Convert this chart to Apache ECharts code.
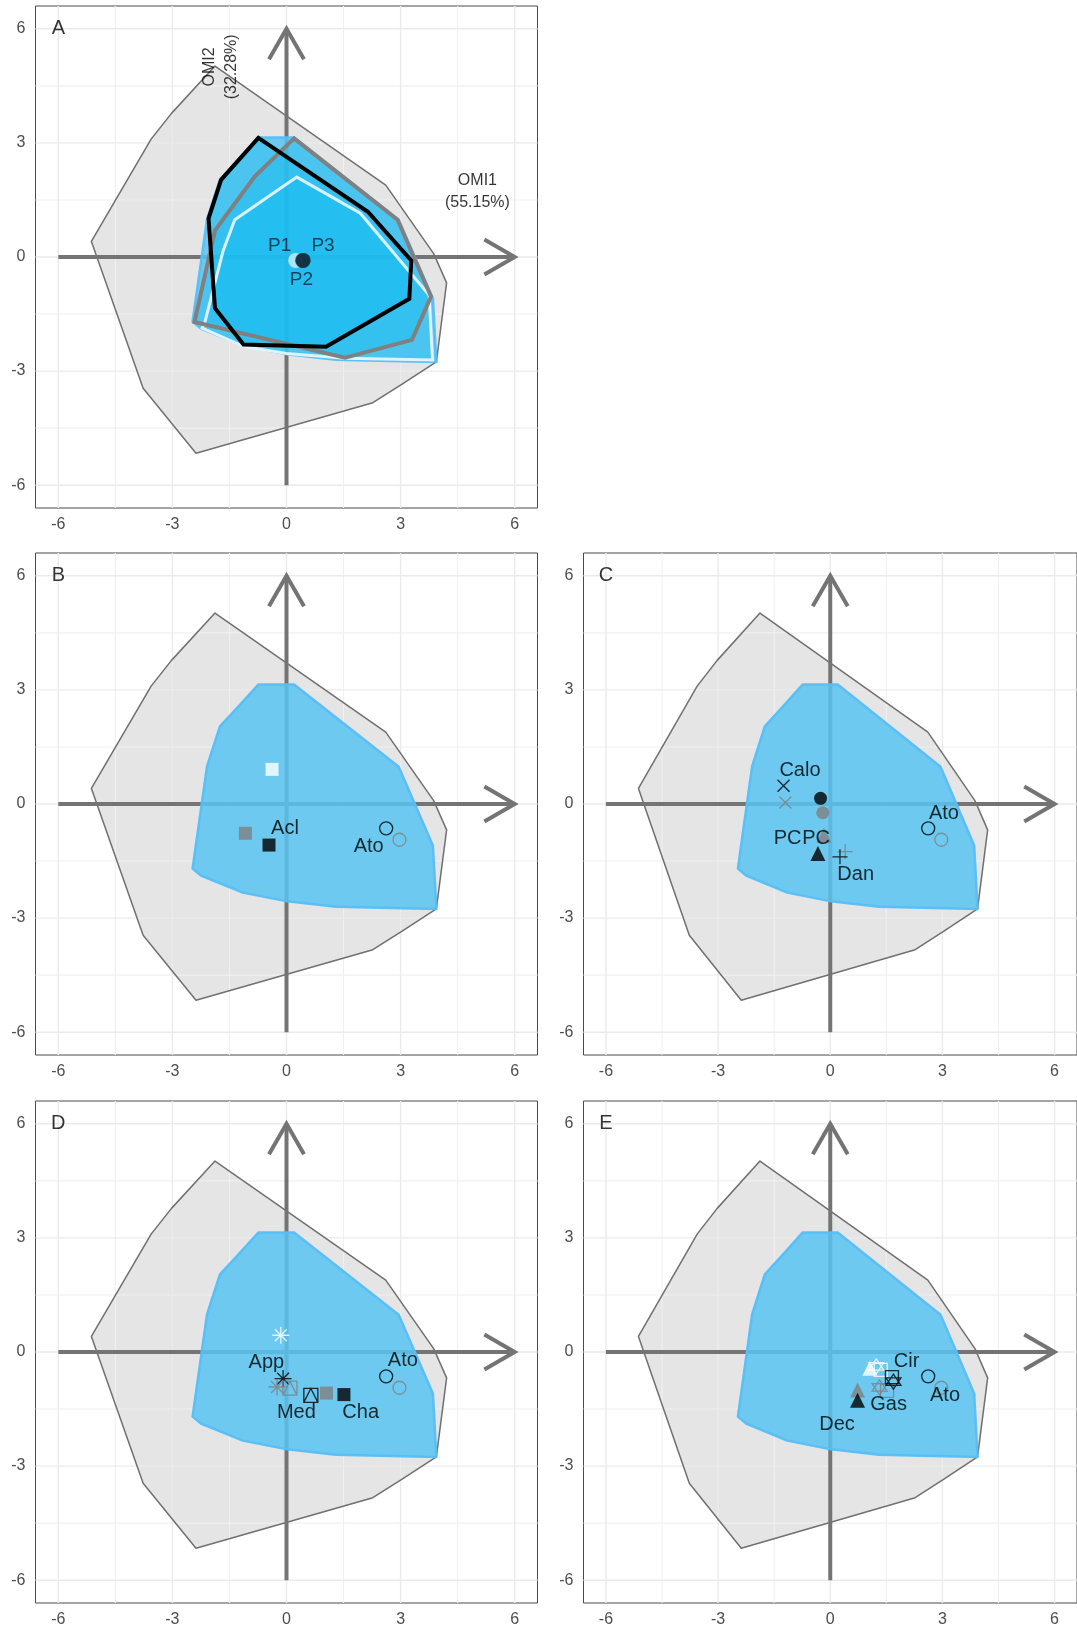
<!DOCTYPE html>
<html>
<head>
<meta charset="utf-8">
<script src="https://cdn.jsdelivr.net/npm/echarts@6/dist/echarts.min.js"></script>
<style>
  html, body { margin: 0; padding: 0; background: #fff; }
  #chart { width: 1077px; height: 1629px; }
</style>
</head>
<body>
<div id="chart"></div>
<script>
// axis ticks
const tickValues = [-6, -3, 0, 3, 6];
const minorValues = [-4.5, -1.5, 1.5, 4.5];
const panelLetters = ['A', 'B', 'C', 'D', 'E'];

// whole-community niche (grey) and sub-niche (blue) hulls, same in every panel
const grayHull = [[-5.13, 0.41], [-3.56, 3.10], [-3.03, 3.77], [-1.88, 5.02], [2.61, 1.89], [3.87, 0.09],
  [4.21, -0.68], [3.94, -2.76], [3.03, -3.35], [2.27, -3.83], [-2.38, -5.16], [-3.77, -3.45]];
const blueHull = [[-0.74, 3.14], [0.20, 3.14], [2.95, 0.98], [3.85, -1.09], [3.94, -2.76], [1.30, -2.70],
  [0.02, -2.56], [-1.15, -2.33], [-2.25, -1.88], [-2.47, -1.70], [-2.09, 0.99], [-1.75, 2.04], [-1.25, 2.58]];

// panel A: one hull per period
const hullP1 = [[0.27, 2.10], [1.94, 1.15], [3.75, -1.00], [3.84, -2.71], [1.54, -2.66], [0.0, -2.54],
  [-1.13, -2.35], [-2.22, -1.87], [-2.15, -1.73], [-1.67, 0.15], [-1.36, 0.98]];
const hullP2 = [[0.20, 3.12], [2.92, 0.98], [3.80, -1.04], [3.30, -2.18], [1.54, -2.65], [-2.42, -1.71],
  [-1.88, 0.70], [-0.83, 2.12]];
const hullP3 = [[-0.74, 3.13], [2.14, 1.19], [3.28, -0.09], [3.23, -1.10], [1.04, -2.36], [-1.13, -2.30],
  [-1.88, -1.35], [-2.05, 1.01], [-1.72, 2.03]];

const centroidsA = [['P1', 0.24, -0.09], ['P2', 0.42, -0.09], ['P3', 0.44, -0.09]];
const labelsA = [['P1', -0.18, 0.30], ['P3', 0.96, 0.30], ['P2', 0.39, -0.60]];
const axisTitlesA = [['OMI1\n(55.15%)', 5.02, 1.72, 0], ['OMI2\n(32.28%)', -1.74, 5.0, 90]];

// taxon, period, OMI1, OMI2
const atoPoints = [['Ato', 'P3', 2.62, -0.64], ['Ato', 'P2', 2.97, -0.94]];
const pointsB = [['Acl', 'P1', -0.38, 0.91], ['Acl', 'P2', -1.08, -0.77], ['Acl', 'P3', -0.46, -1.08]];
const pointsC = [['Calo', 'P3', -1.25, 0.48], ['Calo', 'P2', -1.20, 0.04], ['PCa', 'P3', -0.26, 0.15],
  ['PCa', 'P2', -0.20, -0.23], ['PCb', 'P2', -0.17, -0.82], ['PCb', 'P3', -0.33, -1.30],
  ['Dan', 'P2', 0.40, -1.25], ['Dan', 'P3', 0.26, -1.39]];
const pointsD = [['App', 'P1', -0.15, 0.44], ['App', 'P3', -0.09, -0.70], ['App', 'P2', -0.25, -0.92],
  ['Med', 'P2', 0.09, -0.95], ['Med', 'P3', 0.64, -1.14], ['Cha', 'P2', 1.05, -1.08], ['Cha', 'P3', 1.51, -1.12]];
const pointsE = [['Gas', 'P1', 1.06, -0.43], ['Cir', 'P1', 1.23, -0.38], ['Dec', 'P1', 1.35, -0.47],
  ['Gas', 'P2', 0.73, -1.00], ['Gas', 'P3', 0.73, -1.27], ['Cir', 'P2', 1.32, -0.93],
  ['Dec', 'P2', 1.52, -1.02], ['Dec', 'P3', 1.65, -0.66], ['Cir', 'P3', 1.69, -0.78]];

const labelsB = [['Acl', -0.04, -0.64], ['Ato', 2.16, -1.12]];
const labelsC = [['Calo', -0.81, 0.89], ['PC', -1.14, -0.90], ['PC', -0.38, -0.90], ['Dan', 0.68, -1.85], ['Ato', 3.04, -0.26]];
const labelsD = [['App', -0.53, -0.28], ['Med', 0.26, -1.60], ['Cha', 1.95, -1.58], ['Ato', 3.06, -0.23]];
const labelsE = [['Cir', 2.04, -0.26], ['Gas', 1.56, -1.37], ['Dec', 0.18, -1.90], ['Ato', 3.07, -1.15]];

// ---- styles ----
const FONT = '"Liberation Sans", Arial, sans-serif';
const LIM = 6.6;
const periodColor = { P1: '#ffffff', P2: '#808080', P3: '#000000' };
const taxonShape = {
  Acl: 'square', Ato: 'openCircle', Calo: 'cross', PCa: 'circle', PCb: 'triangle', Dan: 'plus',
  App: 'asterisk', Med: 'squareTriangle', Cha: 'square', Gas: 'triangle', Cir: 'hexagram', Dec: 'openSquare'
};
const shapes = {
  square: { symbol: 'rect', size: 13, filled: true },
  circle: { symbol: 'circle', size: 13, filled: true },
  triangle: { symbol: 'triangle', size: 15, filled: true },
  openCircle: { symbol: 'circle', size: 13 },
  openSquare: { symbol: 'rect', size: 13 },
  cross: { symbol: 'path://M0,0L10,10M10,0L0,10', size: 12 },
  plus: { symbol: 'path://M5,0L5,10M0,5L10,5', size: 15 },
  asterisk: { symbol: 'path://M5,0L5,10M0,5L10,5M1.5,1.5L8.5,8.5M8.5,1.5L1.5,8.5', size: 17 },
  squareTriangle: { symbol: 'path://M0,0L10,0L10,10L0,10ZM0,10L5,0L10,10', size: 14 },
  hexagram: { symbol: 'path://M5,0L10,7.5L0,7.5ZM0,2.5L10,2.5L5,10Z', size: 15 }
};

const gridPos = [
  { left: 35.5, top: 6 },
  { left: 35.5, top: 553 },
  { left: 583.5, top: 553 },
  { left: 35.5, top: 1101 },
  { left: 583.5, top: 1101 }
];

function polySeries(i, pts, style, z) {
  return {
    type: 'custom', xAxisIndex: i, yAxisIndex: i, z: z, silent: true, clip: true,
    data: pts,
    renderItem(params, api) {
      if (params.dataIndex !== 0) return;
      return { type: 'polygon', shape: { points: pts.map(p => api.coord(p)) }, style: Object.assign({}, style) };
    }
  };
}

function gridLineSeries(i) {
  return {
    type: 'custom', xAxisIndex: i, yAxisIndex: i, z: 2, silent: true, clip: true,
    data: [[0, 0]],
    renderItem(params, api) {
      const children = [];
      const add = (v, color, w) => {
        const a = api.coord([v, -LIM]), b = api.coord([v, LIM]);
        const c = api.coord([-LIM, v]), d = api.coord([LIM, v]);
        children.push({ type: 'line', shape: { x1: a[0], y1: a[1], x2: b[0], y2: b[1] }, style: { stroke: color, lineWidth: w } });
        children.push({ type: 'line', shape: { x1: c[0], y1: c[1], x2: d[0], y2: d[1] }, style: { stroke: color, lineWidth: w } });
      };
      minorValues.forEach(v => add(v, '#f0f0f0', 1.1));
      tickValues.forEach(v => add(v, '#ebebeb', 1.4));
      return { type: 'group', children };
    }
  };
}

function arrowSeries(i) {
  const lo = tickValues[0], hi = tickValues[tickValues.length - 1];
  return {
    type: 'custom', xAxisIndex: i, yAxisIndex: i, z: 4, silent: true, clip: true,
    data: [[0, 0]],
    renderItem(params, api) {
      const L = 35, ca = Math.cos(Math.PI / 6) * L, sa = Math.sin(Math.PI / 6) * L;
      const h0 = api.coord([lo, 0]), h1 = api.coord([hi, 0]);
      const v0 = api.coord([0, lo]), v1 = api.coord([0, hi]);
      const st = { stroke: '#747474', lineWidth: 4, fill: null, lineJoin: 'miter' };
      return {
        type: 'group', children: [
          { type: 'line', shape: { x1: h0[0], y1: h0[1], x2: h1[0], y2: h1[1] }, style: st },
          { type: 'polyline', shape: { points: [[h1[0] - ca, h1[1] - sa], h1, [h1[0] - ca, h1[1] + sa]] }, style: st },
          { type: 'line', shape: { x1: v0[0], y1: v0[1], x2: v1[0], y2: v1[1] }, style: st },
          { type: 'polyline', shape: { points: [[v1[0] - sa, v1[1] + ca], v1, [v1[0] + sa, v1[1] + ca]] }, style: st }
        ]
      };
    }
  };
}

function pointSeries(i, pts) {
  return {
    type: 'scatter', xAxisIndex: i, yAxisIndex: i, z: 10, silent: true,
    data: pts.map(p => {
      const s = shapes[taxonShape[p[0]]];
      const c = periodColor[p[1]];
      return {
        value: [p[2], p[3]], symbol: s.symbol, symbolSize: s.size,
        itemStyle: s.filled ? { color: c, borderWidth: 0 } : { color: 'rgba(0,0,0,0)', borderColor: c, borderWidth: 1.3 }
      };
    })
  };
}

function textSeries(i, items, size, color, z) {
  return {
    type: 'scatter', xAxisIndex: i, yAxisIndex: i, z: z || 11, silent: true,
    symbol: 'circle', symbolSize: 1, itemStyle: { color: 'rgba(0,0,0,0)' },
    data: items.map(t => ({
      name: t[0], value: [t[1], t[2]],
      label: { rotate: t[3] || 0 }
    })),
    label: {
      show: true, position: 'inside', formatter: '{b}', fontSize: size, color: color,
      fontFamily: FONT, align: 'center', verticalAlign: 'middle', lineHeight: Math.round(size * 1.4)
    }
  };
}

const axisLabelStyle = { customValues: tickValues, color: '#4d4d4d', fontSize: 16, fontFamily: FONT };
const grids = [], xAxes = [], yAxes = [], series = [];
gridPos.forEach((g, i) => {
  grids.push({ left: g.left, top: g.top, width: 502, height: 502, show: true,
    backgroundColor: '#fff', borderColor: '#4a4a4a', borderWidth: 1 });
  xAxes.push({ gridIndex: i, type: 'value', min: -LIM, max: LIM, axisLine: { show: false },
    axisTick: { show: false }, splitLine: { show: false }, axisLabel: Object.assign({ margin: 9 }, axisLabelStyle) });
  yAxes.push({ gridIndex: i, type: 'value', min: -LIM, max: LIM, axisLine: { show: false },
    axisTick: { show: false }, splitLine: { show: false }, axisLabel: Object.assign({ margin: 10 }, axisLabelStyle) });

  series.push(polySeries(i, grayHull, { fill: '#e5e5e5', stroke: null }, 1));
  series.push(gridLineSeries(i));
  series.push(polySeries(i, grayHull, { fill: null, stroke: '#707070', lineWidth: 1.5, lineJoin: 'round' }, 3));
  series.push(arrowSeries(i));
  series.push(polySeries(i, blueHull, { fill: 'rgba(88,196,240,0.86)', stroke: 'rgba(85,190,248,0.95)', lineWidth: 2.5, lineJoin: 'round' }, 5));
  series.push(textSeries(i, [[panelLetters[i], -6, 6]], 20, '#000', 12));
});

// panel A hulls
[hullP1, hullP2, hullP3].forEach((h, k) => {
  series.push(polySeries(0, h, { fill: 'rgba(0,186,242,0.3)', stroke: null }, 6));
});
series.push(polySeries(0, hullP1, { fill: null, stroke: 'rgba(235,248,255,0.9)', lineWidth: 3, lineJoin: 'miter' }, 7));
series.push(polySeries(0, hullP2, { fill: null, stroke: '#808080', lineWidth: 4, lineJoin: 'miter' }, 7));
series.push(polySeries(0, hullP3, { fill: null, stroke: '#000', lineWidth: 4, lineJoin: 'miter' }, 7));
series.push({
  type: 'scatter', xAxisIndex: 0, yAxisIndex: 0, z: 10, silent: true, symbolSize: 15,
  data: centroidsA.map(c => ({
    value: [c[1], c[2]],
    itemStyle: { color: { P1: '#cdeefb', P2: '#3b5566', P3: '#0b2436' }[c[0]] }
  }))
});
series.push(textSeries(0, labelsA, 19, '#0b2436'));
series.push(textSeries(0, axisTitlesA, 16, '#000'));

// panels B-E
[[pointsB, labelsB], [pointsC, labelsC], [pointsD, labelsD], [pointsE, labelsE]].forEach((p, k) => {
  series.push(pointSeries(k + 1, p[0].concat(atoPoints)));
  series.push(textSeries(k + 1, p[1], 20, '#000'));
});

const chart = echarts.init(document.getElementById('chart'), null, { renderer: 'canvas' });
chart.setOption({
  animation: false,
  backgroundColor: '#fff',
  grid: grids,
  xAxis: xAxes,
  yAxis: yAxes,
  series: series
});
</script>
</body>
</html>
